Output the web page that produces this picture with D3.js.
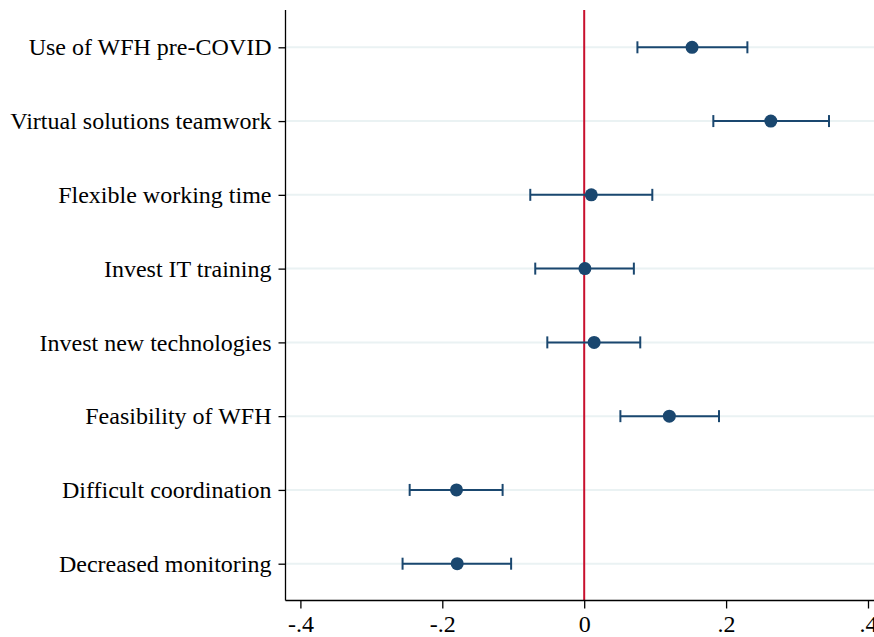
<!DOCTYPE html>
<html><head><meta charset="utf-8">
<script src="https://cdn.jsdelivr.net/npm/d3@7"></script>
<style>body{margin:0;background:#fff}svg{display:block}</style>
</head><body>
<script>
const categories = ["Use of WFH pre-COVID","Virtual solutions teamwork","Flexible working time","Invest IT training","Invest new technologies","Feasibility of WFH","Difficult coordination","Decreased monitoring"];
const estimates = [0.152, 0.263, 0.010, 0.001, 0.014, 0.120, -0.180, -0.179];
const lower = [0.075, 0.182, -0.076, -0.069, -0.052, 0.051, -0.246, -0.256];
const upper = [0.230, 0.345, 0.096, 0.070, 0.079, 0.190, -0.115, -0.103];
const xTicks = [-0.4, -0.2, 0, 0.2, 0.4];
const xTickLabels = ["-.4", "-.2", "0", ".2", ".4"];

(function () {
const W = 874, H = 637;
const svg = d3.select("body").append("svg").attr("width", W).attr("height", H);
const font = "'Liberation Serif','Times New Roman',serif";

const x = d3.scaleLinear().domain([-0.4, 0.4]).range([300.4, 868]);
const y = d3.scalePoint().domain(categories).range([47.3, 563.7]);
const plotLeft = 285.5, plotBottom = 600.5, plotTop = 10;

// gridlines
svg.append("g").selectAll("line").data(categories).join("line")
  .attr("x1", plotLeft).attr("x2", W).attr("y1", d => y(d)).attr("y2", d => y(d))
  .attr("stroke", "#eaf2f3").attr("stroke-width", 2);

// zero line
svg.append("line").attr("x1", x(0)).attr("x2", x(0)).attr("y1", plotTop).attr("y2", plotBottom)
  .attr("stroke", "#c8102e").attr("stroke-width", 2);

const data = categories.map((c, i) => ({c, est: estimates[i], lo: lower[i], hi: upper[i]}));
const col = "#1a476f";
const g = svg.append("g");
g.selectAll(".ci").data(data).join("line")
  .attr("x1", d => x(d.lo)).attr("x2", d => x(d.hi))
  .attr("y1", d => y(d.c)).attr("y2", d => y(d.c))
  .attr("stroke", col).attr("stroke-width", 2);
g.selectAll(".capl").data(data).join("line")
  .attr("x1", d => x(d.lo)).attr("x2", d => x(d.lo))
  .attr("y1", d => y(d.c) - 6).attr("y2", d => y(d.c) + 6)
  .attr("stroke", col).attr("stroke-width", 2);
g.selectAll(".caph").data(data).join("line")
  .attr("x1", d => x(d.hi)).attr("x2", d => x(d.hi))
  .attr("y1", d => y(d.c) - 6).attr("y2", d => y(d.c) + 6)
  .attr("stroke", col).attr("stroke-width", 2);
g.selectAll("circle").data(data).join("circle")
  .attr("cx", d => x(d.est)).attr("cy", d => y(d.c)).attr("r", 6.5)
  .attr("fill", col);

// y axis
const yAxis = d3.axisLeft(y).tickSize(7).tickPadding(7);
const ya = svg.append("g").attr("transform", `translate(${plotLeft},0)`).call(yAxis);
ya.select(".domain").attr("d", `M0,${plotTop}V${plotBottom}`).attr("stroke", "#000").attr("stroke-width", 1.3);
ya.selectAll(".tick line").attr("stroke", "#000").attr("stroke-width", 1.3);
ya.selectAll("text").attr("font-family", font).attr("font-size", "24px").attr("fill", "#000");

// x axis
const xAxis = d3.axisBottom(x).tickValues(xTicks).tickFormat((d, i) => xTickLabels[i]).tickSize(8).tickPadding(6);
const xa = svg.append("g").attr("transform", `translate(0,${plotBottom})`).call(xAxis);
xa.select(".domain").attr("d", `M${plotLeft},0H${W}`).attr("stroke", "#000").attr("stroke-width", 1.3);
xa.selectAll(".tick line").attr("stroke", "#000").attr("stroke-width", 1.3);
xa.selectAll("text").attr("font-family", font).attr("font-size", "24px").attr("fill", "#000");
})();
</script>
</body></html>
